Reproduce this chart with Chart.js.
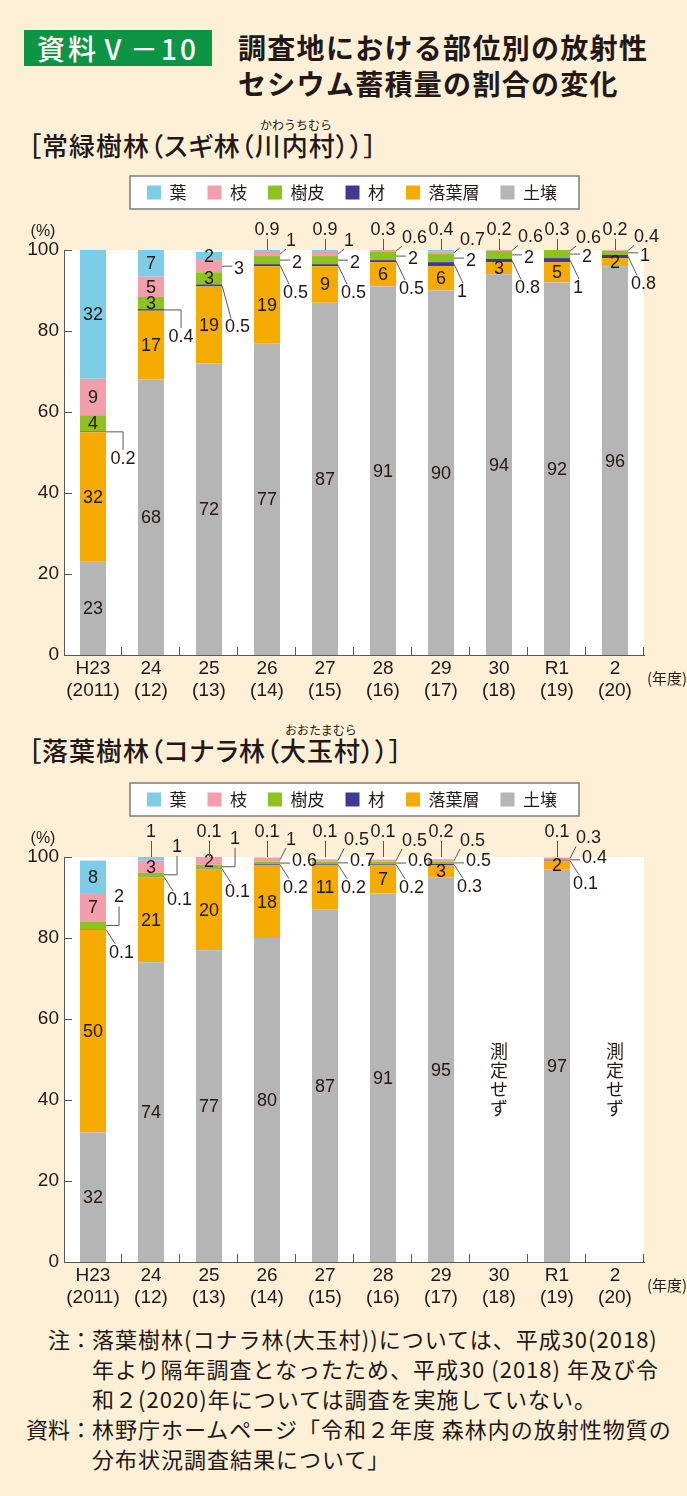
<!DOCTYPE html>
<html lang="ja">
<head>
<meta charset="utf-8">
<title>資料Ⅴ－10</title>
<script src="https://cdn.jsdelivr.net/npm/chart.js@4.4.1/dist/chart.umd.min.js"></script>
<style>
    html, body { margin: 0; padding: 0; }
    body {
        width: 687px; height: 1496px; position: relative; overflow: hidden;
        background: #fdf0d7; color: #231815;
        font-family: "Noto Sans CJK JP", "Noto Sans", sans-serif;
    }
    .badge {
        position: absolute; left: 24px; top: 30px; width: 188px; height: 36px;
        background: #0d9444; color: #fff; font-size: 28px; line-height: 36px; text-align: center;
        letter-spacing: 3px; font-weight: 500;
    }
    .title {
        position: absolute; left: 238px; top: 29px; font-size: 28px; line-height: 36px;
        font-weight: bold; letter-spacing: 1.3px; white-space: nowrap;
    }
    .sub {
        position: absolute; left: 28px; font-size: 26px; line-height: 30px; font-weight: 500;
        letter-spacing: 1px; white-space: nowrap; font-feature-settings: "palt";
    }
    .ruby { position: absolute; font-size: 12px; line-height: 14px; white-space: nowrap; }
    canvas { position: absolute; left: 0; }
    .notes { position: absolute; left: 0; top: 1323px; font-size: 22px; line-height: 30px; }
    .notes .row { display: flex; }
    .notes .lab { width: 92px; flex: none; text-align: right; white-space: nowrap; }
    .notes .txt { white-space: nowrap; letter-spacing: 1px; }
</style>
</head>
<body>
<div class="badge">資料Ⅴ－10</div>
<div class="title">調査地における部位別の放射性<br>セシウム蓄積量の割合の変化</div>

<div class="sub" style="top:130px">［常緑樹林（スギ林（川内村））］</div>
<div class="ruby" style="left:260px; top:118px">かわうちむら</div>
<canvas id="chart-sugi" width="687" height="547" style="top:163px"></canvas>

<div class="sub" style="top:735px">［落葉樹林（コナラ林（大玉村））］</div>
<div class="ruby" style="left:285px; top:723px">おおたまむら</div>
<canvas id="chart-konara" width="687" height="547" style="top:770px"></canvas>

<div class="notes">
    <div class="row"><div class="lab">注：</div><div class="txt">落葉樹林(コナラ林(大玉村))については、平成30(2018)<br>年より隔年調査となったため、平成30 (2018) 年及び令<br>和２(2020)年については調査を実施していない。</div></div>
    <div class="row"><div class="lab">資料：</div><div class="txt">林野庁ホームページ「令和２年度 森林内の放射性物質の<br>分布状況調査結果について」</div></div>
</div>

<script>
var years = [['H23', '(2011)'], ['24', '(12)'], ['25', '(13)'], ['26', '(14)'], ['27', '(15)'],
             ['28', '(16)'], ['29', '(17)'], ['30', '(18)'], ['R1', '(19)'], ['2', '(20)']];
var partNames = ['葉', '枝', '樹皮', '材', '落葉層', '土壌'];
var partColors = ['#7dcde6', '#f39eab', '#8dc21f', '#3e3a94', '#f6ab00', '#b5b5b5'];
var yTicks = [0, 20, 40, 60, 80, 100];

// スギ林（川内村） %
var sugiLeaf   = [32, 7, 2, 0.9, 0.9, 0.3, 0.4, 0.2, 0.3, 0.2];
var sugiBranch = [9, 5, 3, 1, 1, 0.6, 0.7, 0.6, 0.6, 0.4];
var sugiBark   = [4, 3, 3, 2, 2, 2, 2, 2, 2, 1];
var sugiWood   = [0.2, 0.4, 0.5, 0.5, 0.5, 0.5, 1, 0.8, 1, 0.8];
var sugiLitter = [32, 17, 19, 19, 9, 6, 6, 3, 5, 2];
var sugiSoil   = [23, 68, 72, 77, 87, 91, 90, 94, 92, 96];

// コナラ林（大玉村） %  (H30, R2 は測定せず)
var konaraLeaf   = [8, 1, 0.1, 0.1, 0.1, 0.1, 0.2, null, 0.1, null];
var konaraBranch = [7, 3, 2, 1, 0.5, 0.5, 0.5, null, 0.3, null];
var konaraBark   = [2, 1, 1, 0.6, 0.7, 0.6, 0.5, null, 0.4, null];
var konaraWood   = [0.1, 0.1, 0.1, 0.2, 0.2, 0.2, 0.3, null, 0.1, null];
var konaraLitter = [50, 21, 20, 18, 11, 7, 3, null, 2, null];
var konaraSoil   = [32, 74, 77, 80, 87, 91, 95, null, 97, null];

// where the small values go (葉, 枝, 樹皮, 材); others are written inside the bar
var late = ['above', 'ur', 'r', 'lr'];
var sugiModes = [['in', 'in', 'in', 'drop'], ['in', 'in', 'in', 'drop'], ['in', 'r', 'in', 'lrl'],
                 late, late, late, late, late, late, late];
var konaraModes = [['in', 'in', 'rise', 'lr'], ['above', 'in', 'rise', 'lr'], ['above', 'in', 'rise', 'lr'],
                   late, late, late, late, null, late, null];

var TEXT = '#231815';
var LINE = '#595757';
var NUM_FONT = '"Liberation Sans", Arial, sans-serif';
var JP_FONT = '"Noto Sans CJK JP", sans-serif';

Chart.defaults.font.family = NUM_FONT;
Chart.defaults.color = TEXT;

var layoutPlugin = {
    id: 'layoutBits',
    afterInit: function (chart) {
        // fixed room for the legend above the plot
        var legend = chart.legend;
        var fit = legend.fit;
        legend.fit = function () {
            fit.call(this);
            this.height = 87;
        };
    },
    afterLayout: function (chart, args, opts) {
        chart.legend.left += opts.legendShift;
        chart.legend.right += opts.legendShift;
    },
    beforeDraw: function (chart) {
        var ctx = chart.ctx;
        var area = chart.chartArea;
        ctx.save();
        ctx.fillStyle = '#ffffff';
        ctx.fillRect(area.left, area.top, area.right - area.left, area.bottom - area.top);
        // legend frame
        var boxes = chart.legend.legendHitBoxes;
        if (boxes && boxes.length) {
            var first = boxes[0], last = boxes[boxes.length - 1];
            var x0 = first.left - 17, x1 = last.left + last.width + 22;
            var y0 = first.top - 8, y1 = first.top + first.height + 8;
            ctx.fillRect(x0, y0, x1 - x0, y1 - y0);
            ctx.strokeStyle = '#7d7d7d';
            ctx.lineWidth = 1.5;
            ctx.strokeRect(x0, y0, x1 - x0, y1 - y0);
        }
        ctx.restore();
    },
    afterDraw: function (chart, args, opts) {
        var ctx = chart.ctx;
        var area = chart.chartArea;
        var xs = chart.scales.x, ys = chart.scales.y;
        ctx.save();
        ctx.strokeStyle = LINE;
        ctx.lineWidth = 1;
        // inward tick marks
        ys.ticks.forEach(function (t) {
            var y = Math.round(ys.getPixelForValue(t.value)) + 0.5;
            ctx.beginPath();
            ctx.moveTo(area.left, y);
            ctx.lineTo(area.left + 8, y);
            ctx.stroke();
        });
        var half = (area.right - area.left) / (2 * years.length);
        for (var i = 0; i < years.length; i++) {
            var x = Math.round(xs.getPixelForValue(i) + half) - 0.5;
            ctx.beginPath();
            ctx.moveTo(x, area.bottom);
            ctx.lineTo(x, area.bottom - 8);
            ctx.stroke();
        }
        // unit labels
        ctx.fillStyle = TEXT;
        ctx.font = '16px ' + NUM_FONT;
        ctx.textAlign = 'center';
        ctx.textBaseline = 'middle';
        ctx.fillText('(%)', 43, area.top - 18);
        ctx.font = '15px ' + JP_FONT;
        ctx.textAlign = 'left';
        ctx.fillText('(年度)', area.right + 3, area.bottom + 23);

        drawCallouts(chart, opts);

        // 測定せず
        ctx.font = '18px ' + JP_FONT;
        ctx.textAlign = 'center';
        ctx.fillStyle = TEXT;
        var chars = '測定せず'.split('');
        opts.modes.forEach(function (m, i) {
            if (m) return;
            var cx = xs.getPixelForValue(i);
            var cy = ys.getPixelForValue(45);
            chars.forEach(function (c, k) {
                ctx.fillText(c, cx, cy + (k - 1.5) * 19);
            });
        });
        ctx.restore();
    }
};

function drawCallouts(chart, opts) {
    var ctx = chart.ctx;
    var area = chart.chartArea;
    var off = opts.offsets;
    ctx.font = '18px ' + NUM_FONT;
    ctx.fillStyle = TEXT;
    ctx.strokeStyle = LINE;
    ctx.lineWidth = 1;
    ctx.textBaseline = 'middle';

    function line(pts) {
        ctx.beginPath();
        ctx.moveTo(pts[0][0], pts[0][1]);
        for (var k = 1; k < pts.length; k++) ctx.lineTo(pts[k][0], pts[k][1]);
        ctx.stroke();
    }

    chart.data.datasets.forEach(function (ds, di) {
        chart.getDatasetMeta(di).data.forEach(function (bar, i) {
            var v = ds.data[i];
            if (v === null || v === undefined || !opts.modes[i]) return;
            var mode = ds.part < 4 ? opts.modes[i][ds.part] : 'in';
            var top = Math.max(bar.y, area.top);
            var mid = bar.base <= area.top ? area.top + 1 : (top + bar.base) / 2;
            var xR = bar.x + bar.width / 2;
            var text = String(v);
            var y;
            if (mode === 'in') {
                ctx.textAlign = 'center';
                ctx.fillText(text, bar.x, mid + 1);
            } else if (mode === 'above') {
                y = area.top + off.above;
                line([[bar.x + 0.5, area.top], [bar.x + 0.5, y + 9]]);
                ctx.textAlign = 'center';
                ctx.fillText(text, bar.x, y);
            } else if (mode === 'ur') {
                y = mid + off.ur;
                line([[xR, mid], [xR + 6, y + 8]]);
                ctx.textAlign = 'left';
                ctx.fillText(text, xR + 6, y);
            } else if (mode === 'r') {
                y = mid + off.r;
                line([[xR, mid], [xR + 10, mid]]);
                ctx.textAlign = 'left';
                ctx.fillText(text, xR + 12, y);
            } else if (mode === 'lr' || mode === 'lrl') {
                y = mid + off[mode];
                line([[xR, mid], [xR + 9, y - 9]]);
                ctx.textAlign = 'left';
                ctx.fillText(text, xR + 3, y);
            } else if (mode === 'drop') {
                y = mid + off.drop;
                line([[xR, mid], [xR + 17, mid], [xR + 17, y - 9]]);
                ctx.textAlign = 'center';
                ctx.fillText(text, xR + 17, y);
            } else if (mode === 'rise') {
                y = mid + off.rise;
                line([[xR, mid], [xR + 13, mid], [xR + 13, y + 9]]);
                ctx.textAlign = 'center';
                ctx.fillText(text, xR + 13, y);
            }
        });
    });
}

function makeChart(id, parts, modes, offsets) {
    // stack order bottom → top: 土壌, 落葉層, 材, 樹皮, 枝, 葉
    var datasets = [];
    for (var p = parts.length - 1; p >= 0; p--) {
        datasets.push({
            label: partNames[p],
            part: p,
            data: parts[p],
            backgroundColor: partColors[p],
            borderWidth: 0,
            clip: 0,
            barPercentage: 0.45,
            categoryPercentage: 1
        });
    }
    return new Chart(document.getElementById(id).getContext('2d'), {
        type: 'bar',
        data: { labels: years, datasets: datasets },
        options: {
            responsive: false,
            animation: false,
            layout: { padding: { left: 0, right: 43, top: 0, bottom: 0 } },
            plugins: {
                legend: {
                    reverse: true,
                    labels: {
                        boxWidth: 14,
                        boxHeight: 14,
                        padding: 21,
                        color: TEXT,
                        font: { family: JP_FONT, size: 17 }
                    }
                },
                tooltip: { enabled: false },
                layoutBits: { legendShift: 30, modes: modes, offsets: offsets }
            },
            scales: {
                x: {
                    stacked: true,
                    grid: { display: false, drawTicks: false },
                    border: { display: true, color: LINE, width: 1 },
                    ticks: { padding: 2, font: { size: 19 }, color: TEXT, maxRotation: 0, autoSkip: false },
                    afterFit: function (scale) { scale.height = 55; }
                },
                y: {
                    stacked: true,
                    min: 0,
                    max: 100,
                    afterBuildTicks: function (scale) {
                        scale.ticks = yTicks.map(function (v) { return { value: v }; });
                    },
                    grid: { display: false, drawTicks: false },
                    border: { display: true, color: LINE, width: 1 },
                    ticks: { padding: 5, font: { size: 19 }, color: TEXT },
                    afterFit: function (scale) { scale.width = 64; }
                }
            }
        },
        plugins: [layoutPlugin]
    });
}

makeChart('chart-sugi',
    [sugiLeaf, sugiBranch, sugiBark, sugiWood, sugiLitter, sugiSoil],
    sugiModes,
    { above: -20, ur: -13, r: 3, lr: 28, lrl: 42, drop: 27 });

makeChart('chart-konara',
    [konaraLeaf, konaraBranch, konaraBark, konaraWood, konaraLitter, konaraSoil],
    konaraModes,
    { above: -25, ur: -20, r: -2, lr: 23, rise: -28 });
</script>
</body>
</html>
